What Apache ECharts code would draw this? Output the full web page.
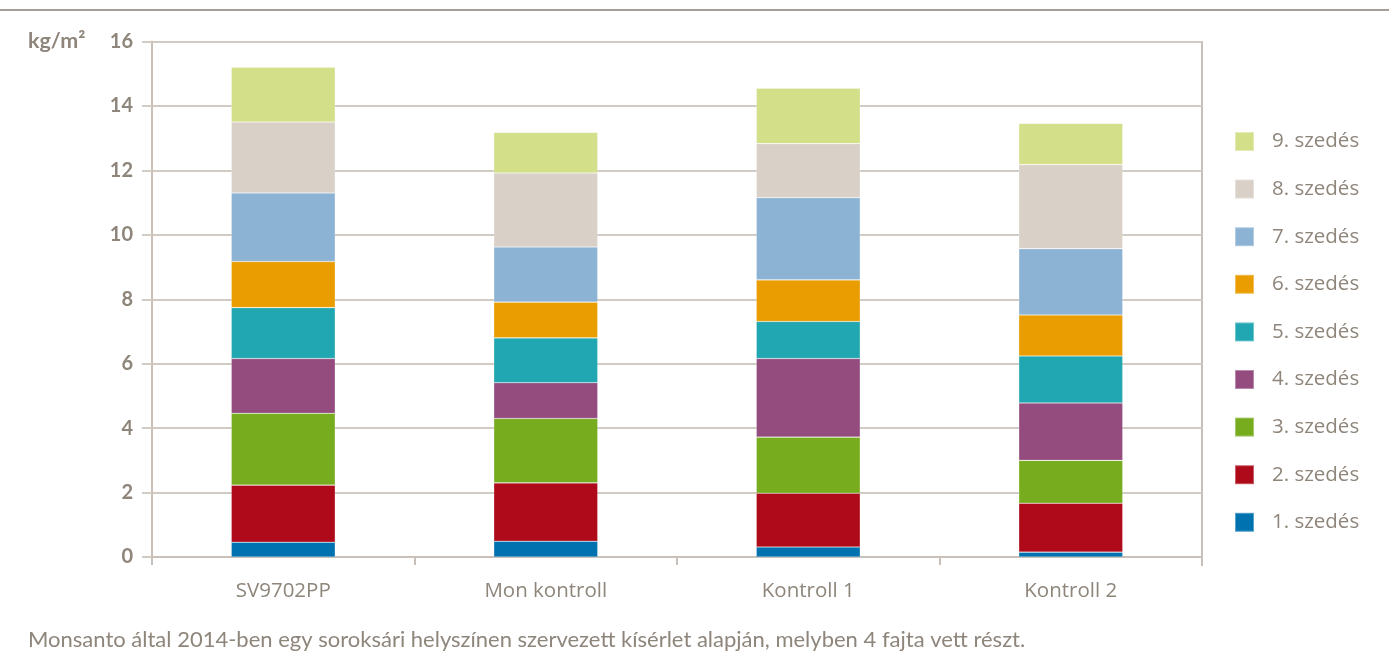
<!DOCTYPE html>
<html>
<head>
<meta charset="utf-8">
<script src="https://cdn.jsdelivr.net/npm/echarts@6/dist/echarts.min.js"></script>
<style>
html,body{margin:0;padding:0;background:#fff;}
#chart{width:1389px;height:663px;}
</style>
</head>
<body>
<div id="chart"></div>
<script>
const categories = ['SV9702PP', 'Mon kontroll', 'Kontroll 1', 'Kontroll 2'];
const seriesNames = ['1. szedés','2. szedés','3. szedés','4. szedés','5. szedés','6. szedés','7. szedés','8. szedés','9. szedés'];
const szedes1 = [0.46, 0.49, 0.31, 0.15];
const szedes2 = [1.77, 1.81, 1.67, 1.52];
const szedes3 = [2.23, 2.00, 1.74, 1.33];
const szedes4 = [1.70, 1.11, 2.44, 1.78];
const szedes5 = [1.58, 1.39, 1.15, 1.46];
const szedes6 = [1.43, 1.11, 1.29, 1.27];
const szedes7 = [2.13, 1.71, 2.55, 2.06];
const szedes8 = [2.20, 2.30, 1.68, 2.61];
const szedes9 = [1.70, 1.26, 1.72, 1.28];
const yTicks = [0, 2, 4, 6, 8, 10, 12, 14, 16];
const colors = ['#0072b0','#ae0a19','#76ac1e','#944b7e','#21a7b1','#e99d00','#8db3d4','#d9d0c7','#d4df8a'];
const footnote = 'Monsanto által 2014-ben egy soroksári helyszínen szervezett kísérlet alapján, melyben 4 fajta vett részt.';
const unitLabel = 'kg/m²';

const allData = [szedes1, szedes2, szedes3, szedes4, szedes5, szedes6, szedes7, szedes8, szedes9];
const textColor = '#8e857b';
const gridColor = '#d2cbc4';
const FONT = 'Lato, "Open Sans", sans-serif';
const FONT2 = '"Open Sans", Lato, sans-serif';

const chart = echarts.init(document.getElementById('chart'));
chart.setOption({
  animation: false,
  backgroundColor: '#fff',
  color: colors,
  grid: { left: 152, right: 187, top: 41.5, bottom: 106, containLabel: false },
  legend: {
    orient: 'vertical',
    left: 1234,
    top: 131,
    padding: 0,
    itemWidth: 19,
    itemHeight: 19,
    itemGap: 26.6,
    icon: 'rect',
    data: seriesNames.slice().reverse(),
    textStyle: { color: textColor, fontSize: 20.5, lineHeight: 21, fontFamily: FONT2, padding: [0, 0, 0, 13] }
  },
  xAxis: {
    type: 'category',
    data: categories,
    axisLine: { show: true, lineStyle: { color: '#c9c1b9', width: 2 } },
    axisTick: { show: true, length: 8, lineStyle: { color: '#c9c1b9', width: 2 } },
    axisLabel: { color: textColor, fontSize: 20.5, fontFamily: FONT2, margin: 24 }
  },
  yAxis: {
    type: 'value',
    min: yTicks[0],
    max: yTicks[yTicks.length - 1],
    interval: 2,
    axisLine: { show: true, lineStyle: { color: '#c9c1b9', width: 2 } },
    axisTick: { show: true, length: 10, lineStyle: { color: gridColor, width: 2 } },
    splitLine: { show: true, lineStyle: { color: gridColor, width: 2 } },
    axisLabel: { color: textColor, fontSize: 20, fontWeight: 'bold', fontFamily: FONT, margin: 19 }
  },
  series: allData.map((d, i) => ({
    name: seriesNames[i],
    type: 'bar',
    stack: 'total',
    barWidth: 104,
    data: d,
    itemStyle: { color: colors[i], borderColor: 'rgba(255,255,255,0.35)', borderWidth: 0.6 }
  })),
  graphic: [
    { type: 'line', shape: { x1: 0, y1: 10, x2: 1389, y2: 10 }, style: { stroke: '#a59e97', lineWidth: 2 } },
    { type: 'line', shape: { x1: 1202, y1: 41, x2: 1202, y2: 566 }, style: { stroke: '#c9c1b9', lineWidth: 2 } },
    { type: 'text', left: 28, top: 30, style: { text: unitLabel, fill: textColor, font: 'bold 21.5px ' + FONT } },
    { type: 'text', left: 28, top: 629, style: { text: footnote, fill: textColor, font: '22px ' + FONT } }
  ]
});
</script>
</body>
</html>
